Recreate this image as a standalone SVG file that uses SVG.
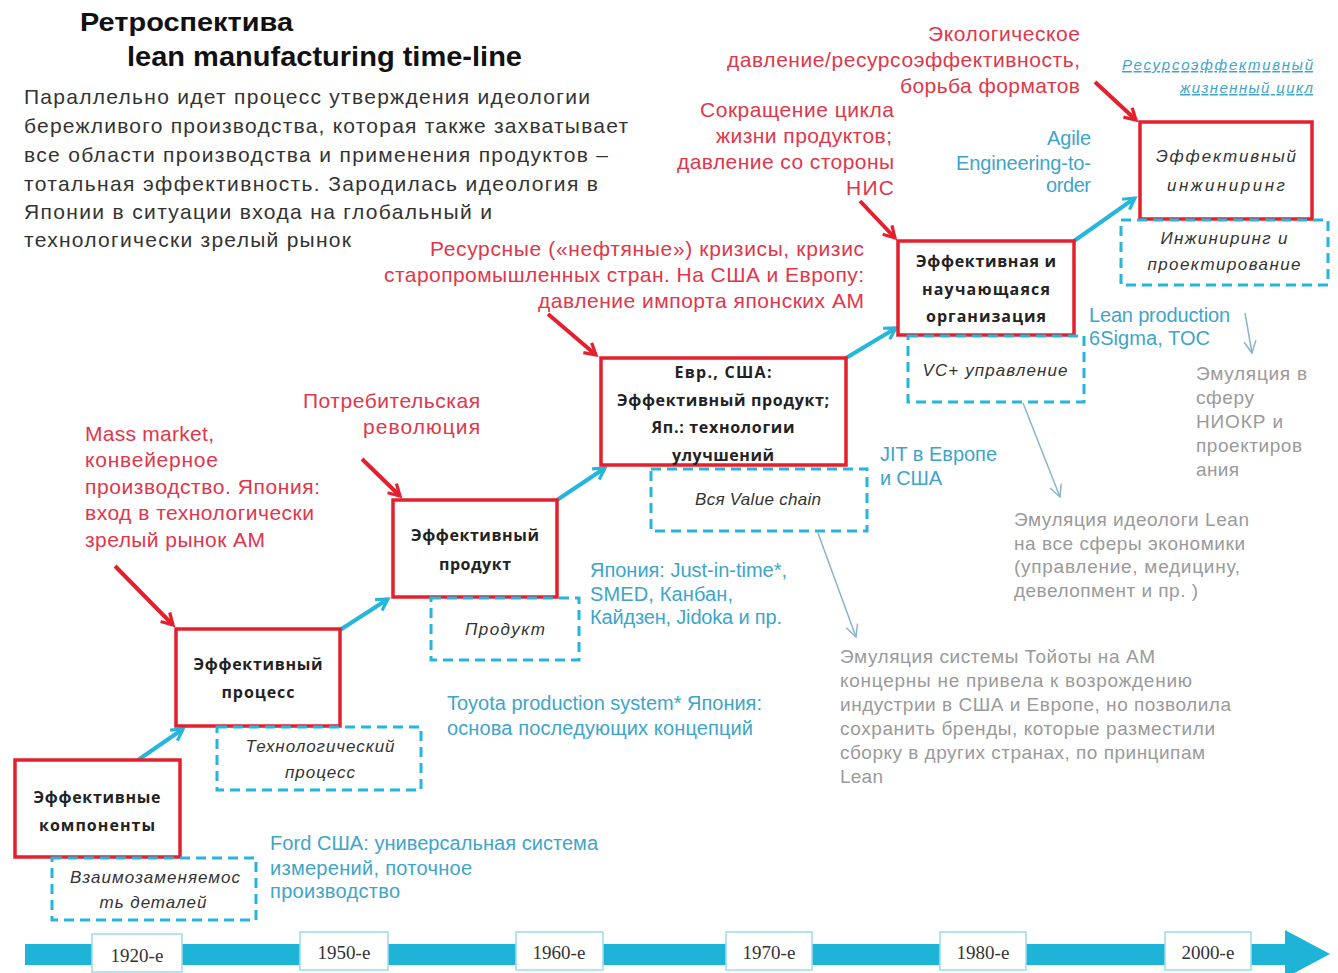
<svg xmlns="http://www.w3.org/2000/svg" width="1338" height="973" viewBox="0 0 1338 973">
<style>
.title{font-family:"Liberation Sans",Arial,sans-serif;font-weight:bold;fill:#111;}
.para{font-family:"Liberation Sans",Arial,sans-serif;font-size:21px;fill:#333;}
.red{font-family:"Liberation Sans",Arial,sans-serif;font-size:21px;fill:#e2364a;}
.cyan{font-family:"Liberation Sans",Arial,sans-serif;font-size:20px;fill:#3ea5c9;}
.gray{font-family:"Liberation Sans",Arial,sans-serif;font-size:19px;fill:#9a9a9a;}
.box{fill:#fff;stroke:#e4202e;stroke-width:3.5;}
.dbox{fill:none;stroke:#25b6dc;stroke-width:3;stroke-dasharray:10,6;}
.bt{font-family:"Open Sans","Liberation Sans",sans-serif;font-size:16px;font-weight:bold;fill:#222;text-anchor:middle;}
.it{font-family:"Liberation Sans",Arial,sans-serif;font-size:17px;font-style:italic;fill:#333;text-anchor:middle;}
.yr{font-family:"Liberation Serif","Times New Roman",serif;font-size:19px;fill:#333;text-anchor:middle;}
.ybox{fill:#fff;stroke:#9ddcec;stroke-width:1.5;}
.carr{stroke:#25b6dc;stroke-width:4;fill:none;}
.rarr{stroke:#e4202e;stroke-width:4;fill:none;}
.garr{stroke:#8ab4cc;stroke-width:1.5;fill:none;}
</style>
<defs>
<marker id="mc" viewBox="0 0 10 10" refX="8" refY="5" markerWidth="4" markerHeight="4" orient="auto" markerUnits="strokeWidth">
<path d="M1,1 L8,5 L1,9" fill="none" stroke="#25b6dc" stroke-width="2"/>
</marker>
<marker id="mr" viewBox="0 0 10 10" refX="8" refY="5" markerWidth="4" markerHeight="4" orient="auto" markerUnits="strokeWidth">
<path d="M1,1 L8,5 L1,9" fill="none" stroke="#e4202e" stroke-width="2"/>
</marker>
<marker id="mg" viewBox="0 0 10 10" refX="9" refY="5" markerWidth="10" markerHeight="10" orient="auto" markerUnits="strokeWidth">
<path d="M1,1 L9,5 L1,9" fill="none" stroke="#8ab4cc" stroke-width="1"/>
</marker>
</defs>
<rect width="1338" height="973" fill="#fff"/>

<g id="title">
<text class="title" x="80" y="31" font-size="26" textLength="213" lengthAdjust="spacingAndGlyphs">Ретроспектива</text>
<text class="title" x="127" y="66" font-size="27" textLength="395" lengthAdjust="spacingAndGlyphs">lean manufacturing time-line</text>
</g>
<g id="intro" class="para">
<text x="24" y="104" textLength="566">Параллельно  идет процесс  утверждения  идеологии</text>
<text x="24" y="133" textLength="604">бережливого  производства, которая  также  захватывает</text>
<text x="24" y="162" textLength="584">все области  производства  и применения  продуктов  –</text>
<text x="24" y="191" textLength="574">тотальная  эффективность.  Зародилась идеология  в</text>
<text x="24" y="219" textLength="468">Японии в ситуации входа на глобальный  и</text>
<text x="24" y="247" textLength="327">технологически  зрелый  рынок</text>
</g>

<g id="timeline">
<rect x="25" y="944" width="1268" height="21" fill="#1eb4d8"/>
<polygon points="1285,930 1330,954 1285,978" fill="#1eb4d8"/>
<rect class="ybox" x="92" y="934" width="90" height="38"/><text class="yr" x="137" y="962">1920-е</text>
<rect class="ybox" x="300" y="932" width="88" height="38"/><text class="yr" x="344" y="959">1950-е</text>
<rect class="ybox" x="516" y="932" width="87" height="38"/><text class="yr" x="559" y="959">1960-е</text>
<rect class="ybox" x="726" y="932" width="86" height="38"/><text class="yr" x="769" y="959">1970-е</text>
<rect class="ybox" x="940" y="932" width="86" height="38"/><text class="yr" x="983" y="959">1980-е</text>
<rect class="ybox" x="1165" y="932" width="86" height="38"/><text class="yr" x="1208" y="959">2000-е</text>
</g>

<g id="connectors">
<line class="carr" x1="138" y1="760" x2="183" y2="729" marker-end="url(#mc)"/>
<line class="carr" x1="340" y1="630" x2="388" y2="599" marker-end="url(#mc)"/>
<line class="carr" x1="557" y1="500" x2="605" y2="468" marker-end="url(#mc)"/>
<line class="carr" x1="846" y1="358" x2="896" y2="328" marker-end="url(#mc)"/>
<line class="carr" x1="1074" y1="241" x2="1135" y2="198" marker-end="url(#mc)"/>
<line class="rarr" x1="115" y1="566" x2="173" y2="625" marker-end="url(#mr)"/>
<line class="rarr" x1="362" y1="459" x2="400" y2="496" marker-end="url(#mr)"/>
<line class="rarr" x1="548" y1="314" x2="596" y2="355" marker-end="url(#mr)"/>
<line class="rarr" x1="860" y1="201" x2="895" y2="238" marker-end="url(#mr)"/>
<line class="rarr" x1="1095" y1="82" x2="1136" y2="120" marker-end="url(#mr)"/>
<line class="garr" x1="1245" y1="313" x2="1252" y2="353" marker-end="url(#mg)"/>
<line class="garr" x1="1023" y1="403" x2="1060" y2="497" marker-end="url(#mg)"/>
<line class="garr" x1="818" y1="533" x2="856" y2="637" marker-end="url(#mg)"/>
</g>

<g id="n1">
<rect class="box" x="15" y="760" width="165" height="97"/>
<text class="bt" x="97" y="803" textLength="127">Эффективные</text>
<text class="bt" x="97" y="831" textLength="116">компоненты</text>
</g>
<g id="d1">
<rect class="dbox" x="52" y="858" width="204" height="62"/>
<text class="it" x="155" y="883" textLength="170">Взаимозаменяемос</text>
<text class="it" x="153" y="908" textLength="107">ть деталей</text>
</g>
<g id="n2">
<rect class="box" x="176" y="629" width="164" height="97"/>
<text class="bt" x="258" y="670" textLength="129">Эффективный</text>
<text class="bt" x="258" y="698" textLength="73">процесс</text>
</g>
<g id="d2">
<rect class="dbox" x="217" y="727" width="204" height="63"/>
<text class="it" x="320" y="752" textLength="149">Технологический</text>
<text class="it" x="320" y="778" textLength="70">процесс</text>
</g>
<g id="n3">
<rect class="box" x="393" y="500" width="164" height="97"/>
<text class="bt" x="475" y="541" textLength="128">Эффективный</text>
<text class="bt" x="475" y="570" textLength="72">продукт</text>
</g>
<g id="d3">
<rect class="dbox" x="431" y="598" width="148" height="62"/>
<text class="it" x="505" y="635" textLength="80">Продукт</text>
</g>
<g id="n4">
<rect class="box" x="601" y="358" width="245" height="107"/>
<text class="bt" x="723" y="378" textLength="97">Евр., США:</text>
<text class="bt" x="723" y="406" textLength="212">Эффективный продукт;</text>
<text class="bt" x="723" y="433" textLength="143">Яп.: технологии</text>
<text class="bt" x="723" y="461" textLength="102">улучшений</text>
</g>
<g id="d4">
<rect class="dbox" x="651" y="469" width="216" height="62"/>
<text class="it" x="758" y="505" textLength="126">Вся Value chain</text>
</g>
<g id="n5">
<rect class="box" x="898" y="241" width="176" height="94"/>
<text class="bt" x="986" y="267" textLength="140">Эффективная и</text>
<text class="bt" x="986" y="295" textLength="128">научающаяся</text>
<text class="bt" x="986" y="322" textLength="120">организация</text>
</g>
<g id="d5">
<rect class="dbox" x="908" y="336" width="176" height="66"/>
<text class="it" x="995" y="376" textLength="145">VC+ управление</text>
</g>
<g id="n6">
<rect class="box" x="1140" y="122" width="172" height="97"/>
<text class="it" x="1226" y="162" textLength="140">Эффективный</text>
<text class="it" x="1226" y="191" textLength="118">инжиниринг</text>
</g>
<g id="d6">
<rect class="dbox" x="1121" y="220" width="207" height="65"/>
<text class="it" x="1224" y="244" textLength="127">Инжиниринг и</text>
<text class="it" x="1224" y="270" textLength="153">проектирование</text>
</g>

<g id="red-labels" class="red">
<text x="85" y="441" textLength="129">Mass market,</text>
<text x="85" y="467" textLength="133">конвейерное</text>
<text x="85" y="494" textLength="235">производство. Япония:</text>
<text x="85" y="520" textLength="229">вход в технологически</text>
<text x="85" y="547" textLength="180">зрелый рынок АМ</text>
<g text-anchor="end">
<text x="480" y="408" textLength="177">Потребительская</text>
<text x="480" y="434" textLength="117">революция</text>
<text x="864" y="256" textLength="434">Ресурсные («нефтяные»)  кризисы, кризис</text>
<text x="864" y="282" textLength="480">старопромышленных стран. На США и Европу:</text>
<text x="864" y="308" textLength="326">давление импорта японских АМ</text>
<text x="894" y="117" textLength="194">Сокращение цикла</text>
<text x="892" y="143" textLength="176">жизни продуктов;</text>
<text x="894" y="169" textLength="217">давление со стороны</text>
<text x="894" y="195" textLength="48">НИС</text>
<text x="1080" y="41" textLength="152">Экологическое</text>
<text x="1080" y="67" textLength="353">давление/ресурсоэффективность,</text>
<text x="1080" y="93" textLength="180">борьба форматов</text>
</g>
</g>

<g id="cyan-labels" class="cyan">
<g text-anchor="end">
<text x="1313" y="70" font-size="15" font-style="italic" text-decoration="underline" textLength="191">Ресурсоэффективный</text>
<text x="1313" y="93" font-size="15" font-style="italic" text-decoration="underline" textLength="133">жизненный цикл</text>
<text x="1091" y="145" textLength="44">Agile</text>
<text x="1091" y="170" textLength="135">Engineering-to-</text>
<text x="1091" y="192" textLength="45">order</text>
</g>
<text x="1089" y="322" textLength="141">Lean production</text>
<text x="1089" y="345" textLength="121">6Sigma, TOC</text>
<text x="880" y="461" textLength="117">JIT в Европе</text>
<text x="880" y="485" textLength="62">и США</text>
<text x="590" y="577" textLength="197">Япония: Just-in-time*,</text>
<text x="590" y="601" textLength="143">SMED, Канбан,</text>
<text x="590" y="624" textLength="192">Кайдзен, Jidoka и пр.</text>
<text x="447" y="710" textLength="315">Toyota production  system* Япония:</text>
<text x="447" y="735" textLength="306">основа последующих концепций</text>
<text x="270" y="850" textLength="328">Ford США: универсальная система</text>
<text x="270" y="875" textLength="202">измерений,  поточное</text>
<text x="270" y="898" textLength="130">производство</text>
</g>

<g id="gray-labels" class="gray">
<text x="1196" y="380" textLength="111">Эмуляция в</text>
<text x="1196" y="404" textLength="58">сферу</text>
<text x="1196" y="428" textLength="87">НИОКР и</text>
<text x="1196" y="452" textLength="106">проектиров</text>
<text x="1196" y="476" textLength="43">ания</text>
<text x="1014" y="526" textLength="235">Эмуляция идеологи Lean</text>
<text x="1014" y="550" textLength="231">на все сферы экономики</text>
<text x="1014" y="573" textLength="226">(управление, медицину,</text>
<text x="1014" y="597" textLength="184">девелопмент и пр. )</text>
<text x="840" y="663" textLength="315">Эмуляция системы Тойоты на АМ</text>
<text x="840" y="687" textLength="352">концерны не привела к  возрождению</text>
<text x="840" y="711" textLength="391">индустрии в США и Европе, но позволила</text>
<text x="840" y="735" textLength="375">сохранить бренды, которые разместили</text>
<text x="840" y="759" textLength="365">сборку в других странах, по принципам</text>
<text x="840" y="783" textLength="43">Lean</text>
</g>
</svg>
